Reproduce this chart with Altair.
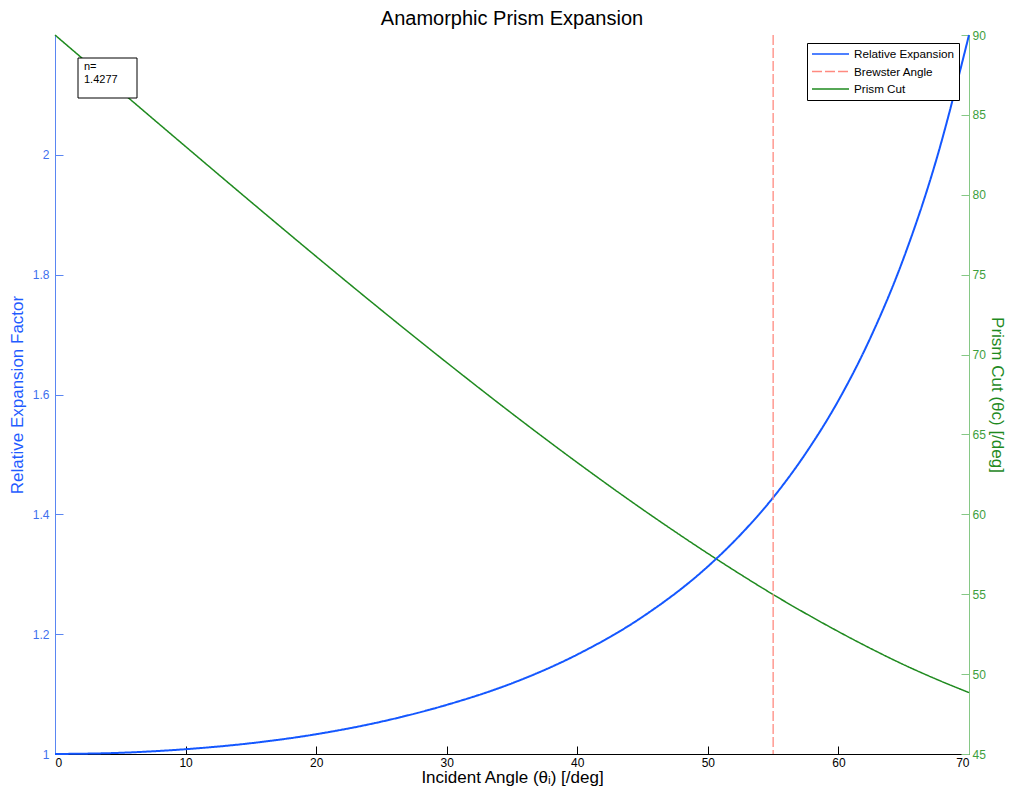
import altair as alt
import pandas as pd

FONT = "Liberation Sans"

# ---- data ----
angles = [0, 5, 10, 15, 20, 25, 30, 35, 40, 45, 50, 52.5, 55, 57.5, 60, 62.5, 65, 67.5, 70]
expansion = [1.0, 1.002, 1.008, 1.018, 1.033, 1.054, 1.082, 1.118, 1.166, 1.229, 1.313,
             1.366, 1.428, 1.502, 1.590, 1.697, 1.828, 1.992, 2.2]
prism_cut = [90, 86.5, 83.02, 79.56, 76.14, 72.78, 69.5, 66.31, 63.24, 60.31, 57.55,
             56.24, 54.98, 53.79, 52.66, 51.59, 50.59, 49.68, 48.84]
brewster_angle = [55]
n_label = "n=\n1.4277"

series_names = ["Relative Expansion", "Brewster Angle", "Prism Cut"]
series_colors = ["#1457ff", "#ff8a80", "#1f8a1f"]
series_dashes = [[1, 0], [10, 3], [1, 0]]

x_ticks = [0, 10, 20, 30, 40, 50, 60, 70]
left_ticks = [1, 1.2, 1.4, 1.6, 1.8, 2.0]
right_ticks = [45, 50, 55, 60, 65, 70, 75, 80, 85, 90]

df = pd.DataFrame({"angle": angles, "expansion": expansion, "cut": prism_cut})
brew = pd.DataFrame({"angle": brewster_angle})

x_scale = alt.Scale(domain=[0, 70], nice=False, zero=False)
yl_scale = alt.Scale(domain=[1, 2.2], nice=False, zero=False)
yr_scale = alt.Scale(domain=[45, 90], nice=False, zero=False)

color_scale = alt.Scale(domain=series_names, range=series_colors)
dash_scale = alt.Scale(domain=series_names, range=series_dashes)

legend = alt.Legend(title=None, orient="none", legendX=752, legendY=8,
                    strokeColor="black", fillColor="white", padding=4,
                    symbolType="stroke", symbolSize=1369, symbolStrokeWidth=1.6,
                    labelFont=FONT, labelFontSize=11.7, labelColor="black",
                    rowPadding=3.5, labelOffset=4, clipHeight=14)


def series_enc():
    return dict(
        color=alt.Color("series:N", scale=color_scale, legend=legend),
        strokeDash=alt.StrokeDash("series:N", scale=dash_scale, legend=legend),
    )


LEFT_C = "#5a86f2"
LEFT_L = "#3f70ee"
LEFT_T = "#1f5cff"
RIGHT_C = "#86c886"
RIGHT_L = "#3d9e3d"
RIGHT_T = "#1f8a1f"
TICK_FS = 12
TITLE_FS = 17

neg_w = alt.ExprRef(expr="-width")
neg_h = alt.ExprRef(expr="-height")

x_main = alt.X("angle:Q", scale=x_scale,
               axis=alt.Axis(values=x_ticks, ticks=False, tickSize=0, domainColor="black",
                             labelColor="black", labelFont=FONT, labelFontSize=TICK_FS,
                             labelPadding=3, title="Incident Angle (θᵢ) [/deg]",
                             titleFont=FONT, titleFontSize=TITLE_FS, titleFontWeight="normal",
                             titleColor="black", titlePadding=1, grid=False))
x_tick = alt.X("angle:Q", scale=x_scale,
               axis=alt.Axis(orient="top", offset=neg_h, values=x_ticks, labels=False,
                             domain=False, ticks=True, tickColor="black", tickSize=8,
                             title=None, grid=False))

blue_line = alt.Chart(df).transform_calculate(series="'Relative Expansion'").mark_line(
    strokeWidth=2, interpolate="monotone").encode(
    x=x_main,
    y=alt.Y("expansion:Q", scale=yl_scale,
            axis=alt.Axis(orient="left", values=left_ticks, format="~g", ticks=False,
                          tickSize=0, domainColor=LEFT_C, labelColor=LEFT_L,
                          labelFont=FONT, labelFontSize=TICK_FS, labelPadding=6,
                          title="Relative Expansion Factor", titleFont=FONT,
                          titleFontSize=TITLE_FS, titleFontWeight="normal", titleColor=LEFT_T,
                          titlePadding=6, grid=False)),
    **series_enc())
blue_ticks = alt.Chart(df).mark_point(opacity=0).encode(
    x=x_tick,
    y=alt.Y("expansion:Q", scale=yl_scale,
            axis=alt.Axis(orient="right", offset=neg_w, values=left_ticks, labels=False,
                          domain=False, ticks=True, tickColor=LEFT_C, tickSize=8,
                          title=None, grid=False)))
blue = alt.layer(blue_line, blue_ticks).resolve_axis(x="independent", y="independent")

green_line = alt.Chart(df).transform_calculate(series="'Prism Cut'").mark_line(
    strokeWidth=1.5, interpolate="monotone").encode(
    x=alt.X("angle:Q", scale=x_scale, axis=None),
    y=alt.Y("cut:Q", scale=yr_scale,
            axis=alt.Axis(orient="right", values=right_ticks, format="d", ticks=False,
                          tickSize=0, domainColor=RIGHT_C, labelColor=RIGHT_L,
                          labelFont=FONT, labelFontSize=TICK_FS, labelPadding=3,
                          title="Prism Cut (θc) [/deg]", titleFont=FONT,
                          titleFontSize=TITLE_FS, titleFontWeight="normal", titleColor=RIGHT_T,
                          titlePadding=2, grid=False)),
    **series_enc())
green_ticks = alt.Chart(df).mark_point(opacity=0).encode(
    x=alt.X("angle:Q", scale=x_scale, axis=None),
    y=alt.Y("cut:Q", scale=yr_scale,
            axis=alt.Axis(orient="left", offset=neg_w, values=right_ticks, labels=False,
                          domain=False, ticks=True, tickColor=RIGHT_C, tickSize=8,
                          title=None, grid=False)))
green = alt.layer(green_line, green_ticks).resolve_axis(y="independent")

rule = alt.Chart(brew).transform_calculate(series="'Brewster Angle'").mark_rule(
    strokeWidth=1.3).encode(
    x=alt.X("angle:Q", scale=x_scale, axis=None),
    **series_enc())

box = alt.Chart(brew).mark_rect(fill="white", stroke="black", strokeWidth=1).encode(
    x=alt.value(23), x2=alt.value(82), y=alt.value(23), y2=alt.value(63))
box_text = alt.Chart(brew).mark_text(align="left", baseline="top", font=FONT, fontSize=11,
                                     lineBreak="\n", lineHeight=13, color="black").encode(
    x=alt.value(29), y=alt.value(26), text=alt.value(n_label))

chart = alt.layer(green, blue, rule, box, box_text).resolve_scale(
    y="independent").properties(
    width=998, height=781,
    autosize=alt.AutoSizeParams(type="fit", contains="padding"),
    title=alt.Title("Anamorphic Prism Expansion", font=FONT, fontSize=20,
                    fontWeight="normal", color="black", offset=0),
    padding={"left": 0, "top": 1, "right": 0, "bottom": 4},
    background="white",
).configure_view(stroke=None)

chart.save("out.html", embed_options={"renderer": "svg", "actions": False})
